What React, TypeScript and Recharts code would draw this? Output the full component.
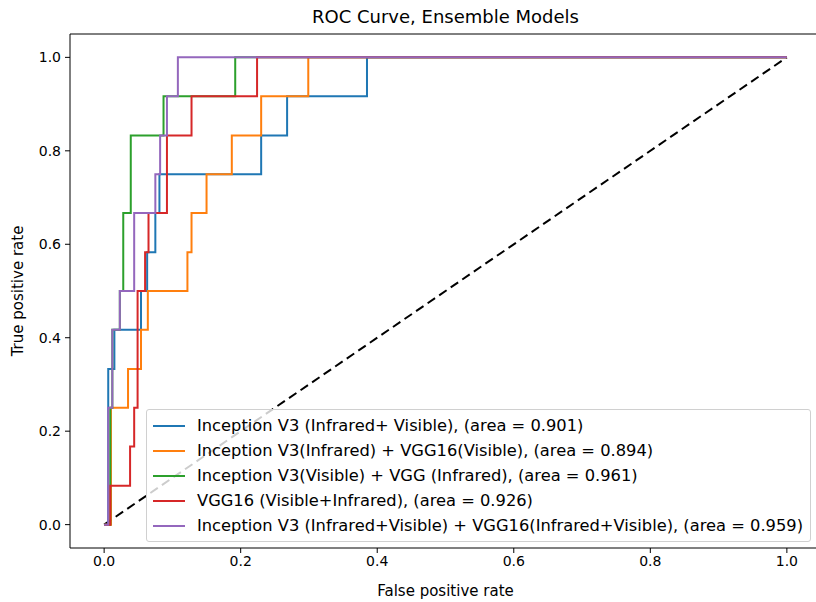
import { Line, LineChart, ReferenceArea, XAxis, YAxis } from "recharts"

// ROC points (fpr, tpr) for each ensemble, corners of the step curves
const fprInceptionBoth = [0, 0.006, 0.006, 0.015, 0.015, 0.054, 0.054, 0.063, 0.063, 0.075, 0.075, 0.081, 0.081, 0.23, 0.23, 0.268, 0.268, 0.385, 0.385, 1]
const tprInceptionBoth = [0, 0, 0.333, 0.333, 0.417, 0.417, 0.5, 0.5, 0.583, 0.583, 0.667, 0.667, 0.75, 0.75, 0.833, 0.833, 0.917, 0.917, 1, 1]

const fprIncIrVggVis = [0, 0.01, 0.01, 0.035, 0.035, 0.054, 0.054, 0.064, 0.064, 0.122, 0.122, 0.128, 0.128, 0.15, 0.15, 0.187, 0.187, 0.23, 0.23, 0.299, 0.299, 1]
const tprIncIrVggVis = [0, 0, 0.25, 0.25, 0.333, 0.333, 0.417, 0.417, 0.5, 0.5, 0.583, 0.583, 0.667, 0.667, 0.75, 0.75, 0.833, 0.833, 0.917, 0.917, 1, 1]

const fprIncVisVggIr = [0, 0.009, 0.009, 0.012, 0.012, 0.023, 0.023, 0.028, 0.028, 0.039, 0.039, 0.087, 0.087, 0.192, 0.192, 1]
const tprIncVisVggIr = [0, 0, 0.25, 0.25, 0.417, 0.417, 0.5, 0.5, 0.667, 0.667, 0.833, 0.833, 0.917, 0.917, 1, 1]

const fprVggBoth = [0, 0.009, 0.009, 0.038, 0.038, 0.044, 0.044, 0.049, 0.049, 0.06, 0.06, 0.065, 0.065, 0.092, 0.092, 0.128, 0.128, 0.224, 0.224, 1]
const tprVggBoth = [0, 0, 0.083, 0.083, 0.167, 0.167, 0.25, 0.25, 0.5, 0.5, 0.583, 0.583, 0.667, 0.667, 0.833, 0.833, 0.917, 0.917, 1, 1]

const fprEnsembleAll = [0, 0.006, 0.006, 0.012, 0.012, 0.023, 0.023, 0.044, 0.044, 0.075, 0.075, 0.082, 0.082, 0.092, 0.092, 0.108, 0.108, 1]
const tprEnsembleAll = [0, 0, 0.25, 0.25, 0.417, 0.417, 0.5, 0.5, 0.667, 0.667, 0.75, 0.75, 0.833, 0.833, 0.917, 0.917, 1, 1]

const chanceFpr = [0, 1]
const chanceTpr = [0, 1]

const axisTicks = [0, 0.2, 0.4, 0.6, 0.8, 1.0]
const axisDomain: [number, number] = [-0.05, 1.05]

const toPoints = (fpr: number[], tpr: number[]) => fpr.map((x, i) => ({ fpr: x, tpr: tpr[i] }))

const curves = [
  { name: "Inception V3 (Infrared+ Visible), (area = 0.901)", color: "#1f77b4", data: toPoints(fprInceptionBoth, tprInceptionBoth) },
  { name: "Inception V3(Infrared) + VGG16(Visible), (area = 0.894)", color: "#ff7f0e", data: toPoints(fprIncIrVggVis, tprIncIrVggVis) },
  { name: "Inception V3(Visible) + VGG (Infrared), (area = 0.961)", color: "#2ca02c", data: toPoints(fprIncVisVggIr, tprIncVisVggIr) },
  { name: "VGG16 (Visible+Infrared), (area = 0.926)", color: "#d62728", data: toPoints(fprVggBoth, tprVggBoth) },
  { name: "Inception V3 (Infrared+Visible) + VGG16(Infrared+Visible), (area = 0.959)", color: "#9467bd", data: toPoints(fprEnsembleAll, tprEnsembleAll) },
]

const font = "'DejaVu Sans', sans-serif"

function RocLegend() {
  return (
    <div
      style={{
        position: "absolute",
        left: 146,
        top: 409,
        border: "1px solid #d0d0d0",
        borderRadius: 3,
        background: "rgba(255,255,255,0.8)",
        padding: "3px 7px 3px 6px",
        fontFamily: font,
        fontSize: 16.3,
        color: "#000",
      }}
    >
      {curves.map((c) => (
        <div key={c.name} style={{ display: "flex", alignItems: "center", height: 25 }}>
          <span style={{ display: "inline-block", width: 32, height: 2, background: c.color, marginRight: 12 }} />
          <span style={{ whiteSpace: "nowrap" }}>{c.name}</span>
        </div>
      ))}
    </div>
  )
}

export default function App() {
  return (
    <div style={{ position: "absolute", left: 0, top: 0, width: 816, height: 602, overflow: "hidden", background: "#fff" }}>
      <div
        style={{
          position: "absolute",
          left: 70,
          width: 751,
          top: 6,
          textAlign: "center",
          fontFamily: font,
          fontSize: 18,
          color: "#000",
        }}
      >
        ROC Curve, Ensemble Models
      </div>
      <LineChart width={830} height={602} margin={{ top: 34, right: 9, bottom: 0, left: 0 }} style={{ fontFamily: font }}>
        <XAxis
          dataKey="fpr"
          type="number"
          domain={axisDomain}
          ticks={axisTicks}
          tickFormatter={(v) => v.toFixed(1)}
          allowDataOverflow
          height={54}
          axisLine={false}
          stroke="#000"
          tickSize={5}
          tickMargin={3}
          tick={{ fill: "#000", fontSize: 14 }}
          label={{ value: "False positive rate", position: "insideBottom", offset: 6, fill: "#000", fontSize: 15 }}
        />
        <YAxis
          dataKey="tpr"
          type="number"
          domain={axisDomain}
          ticks={axisTicks}
          tickFormatter={(v) => v.toFixed(1)}
          allowDataOverflow
          width={70}
          axisLine={false}
          stroke="#000"
          tickSize={5}
          tickMargin={4}
          tick={{ fill: "#000", fontSize: 14 }}
          label={{ value: "True positive rate", angle: -90, position: "insideLeft", offset: 18, fill: "#000", fontSize: 15, style: { textAnchor: "middle" } }}
        />
        {/* axes frame */}
        <ReferenceArea x1={axisDomain[0]} x2={axisDomain[1]} y1={axisDomain[0]} y2={axisDomain[1]} fill="none" stroke="#000" strokeWidth={1} />
        <Line
          data={toPoints(chanceFpr, chanceTpr)}
          dataKey="tpr"
          type="linear"
          stroke="#000"
          strokeWidth={2}
          strokeDasharray="9 5"
          dot={false}
          legendType="none"
          isAnimationActive={false}
        />
        {curves.map((c) => (
          <Line
            key={c.name}
            data={c.data}
            dataKey="tpr"
            name={c.name}
            type="linear"
            stroke={c.color}
            strokeWidth={2}
            dot={false}
            isAnimationActive={false}
          />
        ))}
      </LineChart>
      <RocLegend />
    </div>
  )
}
